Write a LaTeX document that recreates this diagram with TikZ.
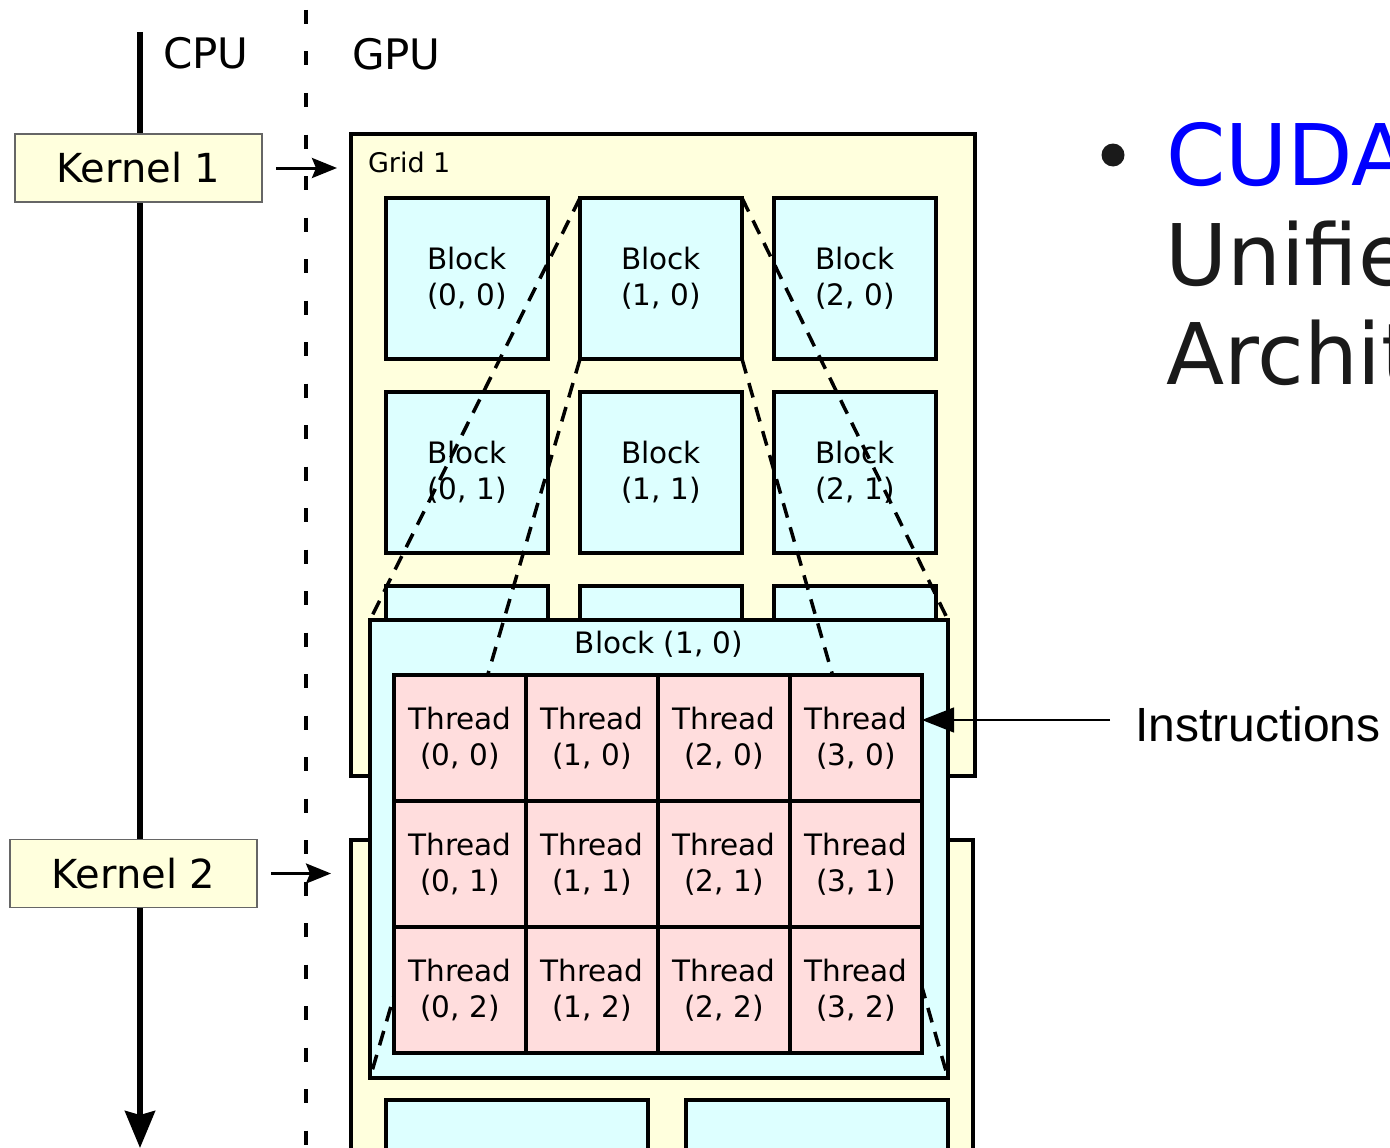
\documentclass[tikz,border=0pt]{standalone}
\usepackage{fontspec}
\setmainfont{DejaVu Sans}
\newfontfamily\arialf{Liberation Sans}
\usetikzlibrary{arrows.meta}
\definecolor{yel}{HTML}{FFFFDD}
\definecolor{cyn}{HTML}{DDFFFF}
\definecolor{pnk}{HTML}{FFDDDD}
\definecolor{txtg}{HTML}{1A1A1A}
\definecolor{cudab}{HTML}{0000FF}
\begin{document}
\begin{tikzpicture}[x=1pt,y=-1pt,
  every node/.style={outer sep=0pt, inner sep=0pt},
  kbox/.style={draw=black!60, fill=yel, line width=1.2pt, minimum width=247pt, minimum height=68pt, font=\fontsize{40}{48}\selectfont},
  gridbox/.style={draw=black, fill=yel, line width=4.5pt},
  blk/.style={draw=black, fill=cyn, line width=4.5pt, minimum width=162pt, minimum height=161pt, align=center, font=\fontsize{29.5}{36}\selectfont},
  thr/.style={draw=black, fill=pnk, line width=3.5pt, minimum width=132pt, minimum height=126pt, align=center, font=\fontsize{29.5}{36}\selectfont},
  toplbl/.style={anchor=base west, font=\fontsize{42}{50}\selectfont},
  bigtxt/.style={anchor=base west, font=\fontsize{85}{100}\selectfont, text=txtg},
  karrow/.style={line width=3pt, -{Stealth[length=25pt,width=20pt,inset=4pt]}},
  cpuarrow/.style={line width=5.5pt, -{Stealth[length=37pt,width=30pt,inset=4pt]}},
  insarrow/.style={line width=1.3pt, -{Triangle[length=32pt,width=25pt]}},
  proj/.style={line width=3.5pt, dash pattern=on 15pt off 10pt},
  sep/.style={line width=3.5pt, dash pattern=on 14pt off 27.5pt},
]
\useasboundingbox (0,0) rectangle (1390,1148);
\clip (0,0) rectangle (1390,1148);
\fill[white] (0,0) rectangle (1390,1148);

% CPU / GPU separation
\coordinate (septop) at (306,10);
\coordinate (sepbot) at (306,1148);
\draw[sep] (septop) -- (sepbot);
\node[toplbl] (cpu) at (163,69) {CPU};
\node[toplbl] (gpu) at (352,70) {GPU};

% CPU timeline
\coordinate (cputop) at (140,32);
\coordinate (cpubot) at (140,1148);
\draw[cpuarrow] (cputop) -- (cpubot);

% Kernels
\node[kbox] (k1) at (138.5,168) {Kernel 1};
\node[kbox] (k2) at (133.5,873.5) {Kernel 2};

% Grid 1
\node[gridbox, minimum width=624pt, minimum height=642pt] (grid1) at (663,455) {};
\node[anchor=base west, font=\fontsize{27}{32}\selectfont] (g1lbl) at (368,172) {Grid 1};
\node[blk] (b00) at (467,278.5) {Block\\(0, 0)};
\node[blk] (b10) at (661,278.5) {Block\\(1, 0)};
\node[blk] (b20) at (855,278.5) {Block\\(2, 0)};
\node[blk] (b01) at (467,472.5) {Block\\(0, 1)};
\node[blk] (b11) at (661,472.5) {Block\\(1, 1)};
\node[blk] (b21) at (855,472.5) {Block\\(2, 1)};
\node[blk] (b02) at (467,666.5) {};
\node[blk] (b12) at (661,666.5) {};
\node[blk] (b22) at (855,666.5) {};

% Grid 2
\node[gridbox, minimum width=622pt, minimum height=400pt] (grid2) at (662,1040) {};
\node[blk, minimum width=262pt, minimum height=200pt] (c00) at (517,1200) {};
\node[blk, minimum width=262pt, minimum height=200pt] (c10) at (817,1200) {};

% Kernel arrows
\draw[karrow, shorten <=14pt, shorten >=14pt] (k1.east) -- (k1.east -| grid1.west);
\draw[karrow, shorten <=14pt, shorten >=20pt] (k2.east) -- (k2.east -| grid2.west);

% Enlarged block
\node[draw=black, fill=cyn, line width=4pt, minimum width=578pt, minimum height=458pt] (big) at (659,849) {};
\node[font=\fontsize{29.5}{36}\selectfont] (bigt) at (659,644) {Block (1, 0)};

% projection lines
\draw[proj] (b10.north west) -- (big.north west);
\draw[proj] (b10.north east) -- (big.north east);
\draw[proj] (b10.south west) -- (big.south west);
\draw[proj] (b10.south east) -- (big.south east);

% Threads
\node[thr] (t00) at (460,738) {Thread\\(0, 0)};
\node[thr] (t10) at (592,738) {Thread\\(1, 0)};
\node[thr] (t20) at (724,738) {Thread\\(2, 0)};
\node[thr] (t30) at (856,738) {Thread\\(3, 0)};
\node[thr] (t01) at (460,864) {Thread\\(0, 1)};
\node[thr] (t11) at (592,864) {Thread\\(1, 1)};
\node[thr] (t21) at (724,864) {Thread\\(2, 1)};
\node[thr] (t31) at (856,864) {Thread\\(3, 1)};
\node[thr] (t02) at (460,990) {Thread\\(0, 2)};
\node[thr] (t12) at (592,990) {Thread\\(1, 2)};
\node[thr] (t22) at (724,990) {Thread\\(2, 2)};
\node[thr] (t32) at (856,990) {Thread\\(3, 2)};

% Instructions
\node[anchor=base west, font=\arialf\fontsize{48}{56}\selectfont] (ins) at (1135,741) {Instructions};
\coordinate (insfrom) at (1110,720);
\draw[insarrow] (insfrom) -- (t30.east |- insfrom);

% Slide text
\node[circle, fill=txtg, minimum size=23pt] (bul) at (1113,155) {};
\node[bigtxt, text=cudab] (cuda) at (1166,185) {CUDA};
\node[bigtxt] (uni) at (1165,285) {Unified};
\node[bigtxt] (arch) at (1166,384) {Architecture};
\end{tikzpicture}
\end{document}
